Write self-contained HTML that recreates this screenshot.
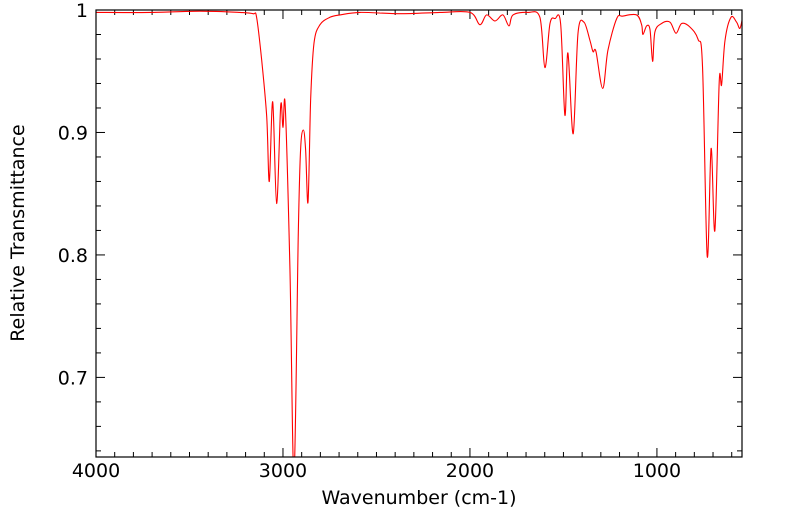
<!DOCTYPE html>
<html><head><meta charset="utf-8"><style>
body{margin:0;background:#fff;}
svg{display:block;font-family:"DejaVu Sans","Liberation Sans",sans-serif;}
</style></head><body>
<svg id="chart" width="799" height="516" viewBox="0 0 799 516">
<defs><clipPath id="clip"><rect x="96" y="10" width="646" height="447"/></clipPath></defs>
<g id="ticks"></g>
<path id="line" fill="none" stroke="#ff0000" stroke-width="1.1" clip-path="url(#clip)"/>
<rect x="96" y="10" width="646" height="447" fill="none" stroke="#000" stroke-width="1.2"/>
<text x="419" y="504" font-size="19" text-anchor="middle">Wavenumber (cm-1)</text>
<text transform="translate(24,233) rotate(-90)" font-size="19" text-anchor="middle">Relative Transmittance</text>
</svg>
<script>
const wavenumbers=[4000,3711,3444,3230,3160,3141,3114,3087,3073,3055,3034,3012,3000,2988,2963,2941,2918,2906,2891,2879,2866,2852,2834,2802,2749,2695,2588,2374,2160,2000,1947,1911,1866,1824,1791,1770,1690,1626,1599,1572,1545,1515,1492,1476,1448,1422,1390,1358,1342,1326,1290,1262,1215,1182,1109,1082,1075,1055,1037,1023,1011,975,930,898,868,823,780,756,731,710,690,667,654,636,604,574,556,542];
const transmittance=[.998,.998,.999,.998,.997,.994,.959,.913,.860,.925,.842,.922,.904,.922,.790,.620,.818,.886,.902,.886,.843,.926,.973,.988,.994,.996,.998,.997,.998,.998,.988,.996,.991,.996,.987,.996,.998,.994,.953,.989,.993,.989,.914,.965,.899,.981,.990,.975,.966,.966,.936,.967,.993,.995,.996,.988,.980,.987,.984,.958,.982,.989,.990,.981,.989,.986,.976,.954,.799,.887,.820,.941,.939,.975,.994,.990,.985,.994];
const xTicks=[4000,3000,2000,1000];
const yTicks=[0.7,0.8,0.9,1];
const X0=96,X1=742,Y0=10,Y1=457,WMAX=4000,WMIN=545,TMAX=1,TMIN=0.635;
const sx=w=>X0+(WMAX-w)/(WMAX-WMIN)*(X1-X0);
const sy=t=>Y0+(TMAX-t)/(TMAX-TMIN)*(Y1-Y0);
const ns="http://www.w3.org/2000/svg";
const P=wavenumbers.map((w,i)=>[sx(w),sy(transmittance[i])]);
let d='M'+P[0][0].toFixed(1)+','+P[0][1].toFixed(1);
for(let i=0;i<P.length-1;i++){
  const p0=P[Math.max(0,i-1)],p1=P[i],p2=P[i+1],p3=P[Math.min(P.length-1,i+2)];
  const k=1/6;
  const c1=[p1[0]+(p2[0]-p0[0])*k,p1[1]+(p2[1]-p0[1])*k];
  const c2=[p2[0]-(p3[0]-p1[0])*k,p2[1]-(p3[1]-p1[1])*k];
  d+='C'+c1[0].toFixed(1)+','+c1[1].toFixed(1)+' '+c2[0].toFixed(1)+','+c2[1].toFixed(1)+' '+p2[0].toFixed(1)+','+p2[1].toFixed(1);
}
document.getElementById('line').setAttribute('d',d);
const g=document.getElementById('ticks');
function ln(x1,y1,x2,y2){const l=document.createElementNS(ns,'line');
l.setAttribute('x1',x1);l.setAttribute('y1',y1);l.setAttribute('x2',x2);l.setAttribute('y2',y2);
l.setAttribute('stroke','#000');l.setAttribute('stroke-width','1');


g.appendChild(l);}
function tx(x,y,s,a,n){const t=document.createElementNS(ns,'text');
t.setAttribute('x',x);t.setAttribute('y',y);t.setAttribute('font-size','19');t.setAttribute('text-anchor',a);t.textContent=s;


g.appendChild(t);}
for(let w=4000;w>=WMIN;w-=100){const x=sx(w);const major=w%1000===0;ln(x,Y1,x,Y1-(major?9:5));ln(x,Y0,x,Y0+(major?9:5));}
xTicks.forEach(w=>tx(sx(w),477,String(w),'middle','x-tick-label'));
for(let k=64;k<=100;k+=2){const t=k/100,y=sy(t);const major=k%10===0;ln(X0,y,X0+(major?9:5),y);ln(X1,y,X1-(major?9:5),y);}
yTicks.forEach(t=>tx(88,sy(t)+7,String(t),'end','y-tick-label'));
</script>
</body></html>
